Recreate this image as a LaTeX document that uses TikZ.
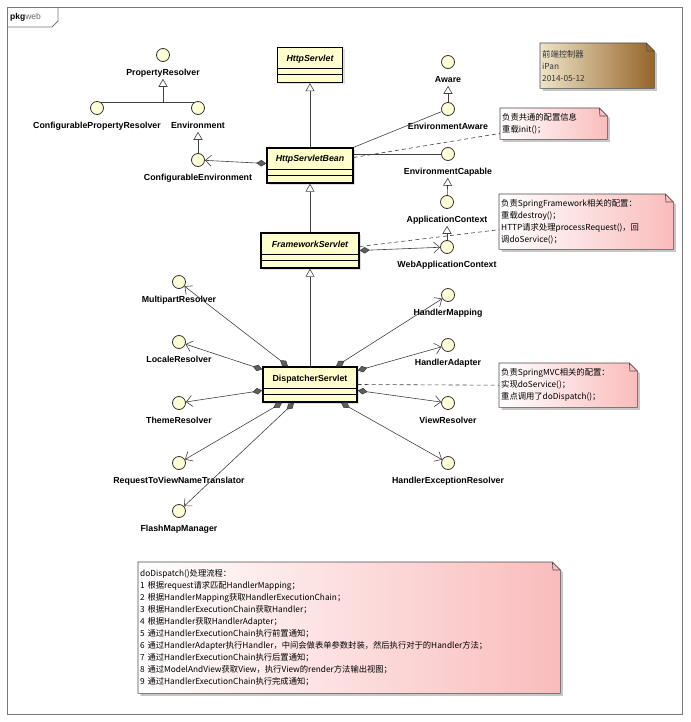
\documentclass[tikz,border=0pt]{standalone}
\usepackage{fontspec}
\setmainfont{Liberation Sans}
\newfontfamily\cjk{Noto Sans CJK SC}
\usetikzlibrary{arrows.meta, shadows, backgrounds}
\definecolor{ifaceYellow}{RGB}{255,255,215}
\definecolor{classYellow}{RGB}{255,255,205}
\definecolor{notePink}{RGB}{250,188,188}
\definecolor{memoLight}{RGB}{238,228,200}
\definecolor{memoBrown}{RGB}{150,100,40}
\definecolor{frameGray}{RGB}{120,120,120}
\definecolor{diamondGray}{RGB}{95,95,95}

\begin{document}
\begin{tikzpicture}[x=1pt, y=-1pt,
        iface/.style={circle, draw=black!80, line width=0.8pt, fill=ifaceYellow,
                      minimum size=13pt, inner sep=0pt},
        lbl/.style={font=\bfseries\fontsize{8.8}{10}\selectfont, inner sep=1pt,
                    text height=6.5pt, text depth=2pt},
        every label/.style={lbl},
        label distance=6pt,
        cls/.style={rectangle, draw=black, line width=1.4pt, fill=classYellow,
                    inner xsep=4pt, inner ysep=0pt, text height=14pt, text depth=21pt,
                    font=\bfseries\fontsize{8.8}{10}\selectfont,
                    drop shadow={shadow xshift=2pt, shadow yshift=-2pt, opacity=0.25},
                    path picture={\draw[line width=0.6pt]
                        ([yshift=-21pt]path picture bounding box.north west) -- ([yshift=-21pt]path picture bounding box.north east)
                        ([yshift=-27pt]path picture bounding box.north west) -- ([yshift=-27pt]path picture bounding box.north east);}},
        note/.style={anchor=north west, inner sep=2pt, align=left,
                     font=\cjk\fontsize{8.3}{12}\selectfont},
        gen/.style={-{Triangle[open, length=8pt, width=9pt]}, line width=0.6pt, black!75},
        comp/.style={arrows={Diamond[fill=diamondGray, length=10pt, width=6.5pt]-Straight Barb[length=6pt, width=11pt]},
                     line width=0.6pt, black!75},
        real/.style={line width=0.6pt, black!75},
        link/.style={line width=0.6pt, black!75, dash pattern=on 4pt off 3pt}
    ]
    \useasboundingbox (0,0) rectangle (690,722);

    % Frame
    \draw[frameGray, line width=0.8pt] (7,7) rectangle (682,714);
    \draw[frameGray, line width=0.8pt] (7,27) -- (52,27) -- (58,21) -- (58,7);
    \node[anchor=west, inner sep=0pt, font=\fontsize{8.5}{10}\selectfont] (pkg) at (10,17)
        {\textbf{pkg}\textcolor{black!60}{web}};

    % Classes
    \node[cls, minimum width=65pt, font=\bfseries\itshape\fontsize{8.8}{10}\selectfont] (hs) at (310,65) {HttpServlet};
    \node[cls, minimum width=86pt, font=\bfseries\itshape\fontsize{8.8}{10}\selectfont] (hsb) at (310,165.5) {HttpServletBean};
    \node[cls, minimum width=98pt, font=\bfseries\itshape\fontsize{8.8}{10}\selectfont] (fs) at (310,250.5) {FrameworkServlet};
    \node[cls, minimum width=94pt] (disp) at (310,384.5) {DispatcherServlet};

    % Interfaces
    \node[iface, label={[name=prL]below:PropertyResolver}] (pr) at (163,55) {};
    \node[iface, label={[name=cprL]below:ConfigurablePropertyResolver}] (cpr) at (97,108) {};
    \node[iface, label={[name=envL]below:Environment}] (env) at (198,108) {};
    \node[iface, label={[name=cenvL]below:ConfigurableEnvironment}] (cenv) at (198,160) {};
    \node[iface, label={[name=awL]below:Aware}] (aw) at (448,62) {};
    \node[iface, label={[name=eawL]below:EnvironmentAware}] (eaw) at (448,109) {};
    \node[iface, label={[name=ecapL]below:EnvironmentCapable}] (ecap) at (448,154) {};
    \node[iface, label={[name=acL]below:ApplicationContext}] (ac) at (447,202) {};
    \node[iface, label={[name=wacL]below:WebApplicationContext}] (wac) at (447,247) {};

    \node[iface, label={[name=mprL]below:MultipartResolver}] (mpr) at (179,282) {};
    \node[iface, label={[name=locL]below:LocaleResolver}] (loc) at (179,342) {};
    \node[iface, label={[name=thmL]below:ThemeResolver}] (thm) at (179,403) {};
    \node[iface, label={[name=rtvL]below:RequestToViewNameTranslator}] (rtv) at (179,463) {};
    \node[iface, label={[name=fmmL]below:FlashMapManager}] (fmm) at (179,511) {};
    \node[iface, label={[name=hmL]below:HandlerMapping}] (hm) at (448,295) {};
    \node[iface, label={[name=haL]below:HandlerAdapter}] (ha) at (448,345) {};
    \node[iface, label={[name=vrL]below:ViewResolver}] (vr) at (448,403) {};
    \node[iface, label={[name=herL]below:HandlerExceptionResolver}] (her) at (448,463) {};

    % Notes
    \node[note, text width=110pt, minimum height=45pt, text=black!80] (memo) at (540,43)
        {前端控制器\\iPan\\2014-05-12};
    \node[note, text width=103pt, minimum height=31pt] (note1) at (500,108)
        {负责共通的配置信息\\重载init()；};
    \node[note, text width=170pt, minimum height=55pt] (note2) at (499,194)
        {负责SpringFramework相关的配置：\\重载destroy()；\\HTTP请求处理processRequest()，回\\调doService()；};
    \node[note, text width=134pt, minimum height=44pt] (note3) at (499,363)
        {负责SpringMVC相关的配置：\\实现doService()；\\重点调用了doDispatch()；};
    \node[note, text width=418pt, minimum height=131pt] (note4) at (138,562)
        {doDispatch()处理流程：\\
         1 根据request请求匹配HandlerMapping；\\
         2 根据HandlerMapping获取HandlerExecutionChain；\\
         3 根据HandlerExecutionChain获取Handler；\\
         4 根据Handler获取HandlerAdapter；\\
         5 通过HandlerExecutionChain执行前置通知；\\
         6 通过HandlerAdapter执行Handler，中间会做表单参数封装，然后执行对于的Handler方法；\\
         7 通过HandlerExecutionChain执行后置通知；\\
         8 通过ModelAndView获取View，执行View的render方法输出视图；\\
         9 通过HandlerExecutionChain执行完成通知；};

    \begin{scope}[on background layer]
        \foreach \n/\l/\r in {memo/memoLight/memoBrown, note1/white/notePink, note2/white/notePink,
                              note3/white/notePink, note4/white/notePink}{
            \fill[black!22, transform canvas={shift={(2.5pt,-2.5pt)}}]
                (\n.south west) -- (\n.north west) -- ([xshift=-8pt]\n.north east)
                -- ([yshift=-8pt]\n.north east) -- (\n.south east) -- cycle;
            \shade[left color=\l, right color=\r, draw=black!70, line width=0.6pt]
                (\n.south west) -- (\n.north west) -- ([xshift=-8pt]\n.north east)
                -- ([yshift=-8pt]\n.north east) -- (\n.south east) -- cycle;
            \draw[black!70, line width=0.6pt] ([xshift=-8pt]\n.north east) -- ++(0.5pt,-8pt)
                -- ([yshift=-8pt]\n.north east);
        }
    \end{scope}

    % Generalization
    \draw[gen] (hsb) -- (hs);
    \draw[gen] (fs) -- (hsb);
    \draw[gen] (disp) -- (fs);
    \draw[real] (cpr.50) -- (env.130);
    \draw[gen] (prL |- cpr.50) -- (prL);
    \draw[gen] (cenv) -- (envL);
    \draw[gen] (eaw) -- (awL);
    \draw[gen] (ac) -- (ecapL);
    \draw[gen] (wac) -- (acL);

    % Realization
    \draw[real] (hsb.north east) -- (eaw);
    \draw[real] (hsb.east |- ecap) -- (ecap);

    % Composition
    \draw[comp] ([yshift=2pt]hsb.west) -- (cenv);
    \draw[comp] (fs.east) -- (wac);
    \draw[comp] ([xshift=-22pt]disp.north) -- (mpr);
    \draw[comp] ([yshift=15pt]disp.west) -- (loc);
    \draw[comp] ([yshift=-6pt]disp.west) -- (thm);
    \draw[comp] ([xshift=-28pt]disp.south) -- (rtv);
    \draw[comp] ([xshift=-16pt]disp.south) -- (fmm);
    \draw[comp] ([xshift=26pt]disp.north) -- (hm);
    \draw[comp] ([yshift=14pt]disp.east) -- (ha);
    \draw[comp] ([yshift=-6pt]disp.east) -- (vr);
    \draw[comp] ([xshift=31pt]disp.south) -- (her);

    % Note links
    \draw[link] ([yshift=8pt]hsb.east) -- ([yshift=6pt]note1.south west);
    \draw[link] ([yshift=4pt]fs.east) -- ([yshift=-8pt]note2.west);
    \draw[link] (disp.east) -- (note3.west);
\end{tikzpicture}
\end{document}
